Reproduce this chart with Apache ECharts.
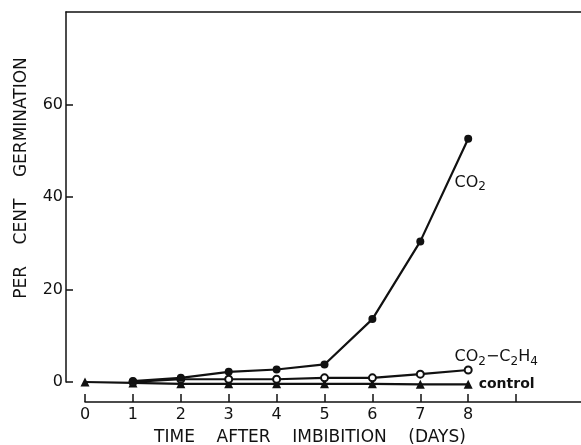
<!DOCTYPE html>
<html>
<head>
<meta charset="utf-8">
<title>Germination</title>
<script src="https://cdn.jsdelivr.net/npm/echarts@6/dist/echarts.min.js"></script>
<style>
  html, body { margin: 0; padding: 0; background: #fff; }
</style>
</head>
<body>
	<div id="main" style="width: 581px; height: 445px;"></div>
	<script type="text/javascript">
		// days after imbibition
		var daysCO2 = [1, 2, 3, 4, 5, 6, 7, 8];
		var daysEth = [1, 2, 3, 4, 5, 6, 7, 8];
		var daysCtl = [0, 1, 2, 3, 4, 5, 6, 7, 8];
		// per cent germination
		var co2 = [0.2, 0.9, 2.2, 2.7, 3.8, 13.6, 30.4, 52.6];
		var co2Eth = [0, 0.6, 0.6, 0.6, 0.9, 0.9, 1.7, 2.6];
		var control = [0, -0.2, -0.4, -0.4, -0.4, -0.4, -0.4, -0.5, -0.5];
		// axis ticks
		var xTicks = [0, 1, 2, 3, 4, 5, 6, 7, 8, 9];
		var xLabels = [0, 1, 2, 3, 4, 5, 6, 7, 8];
		var yTicks = [0, 20, 40, 60];

		var font = 'DejaVu Sans';
		var ink = '#111';

		function pairs(xs, ys) {
			var out = [];
			for (var i = 0; i < xs.length; i++) out.push([xs[i], ys[i]]);
			return out;
		}

		var co2Data = pairs(daysCO2, co2);
		var ethData = pairs(daysEth, co2Eth);
		var ctlData = pairs(daysCtl, control);

		var sub = { fontSize: 12, fontFamily: font, color: ink, padding: [9, 0, 0, 0] };
		var big = { fontSize: 16, fontFamily: font, color: ink };

		// labels hang off the last point of each curve
		co2Data[co2Data.length - 1] = {
			value: co2Data[co2Data.length - 1],
			label: {
				show: true, position: 'inside', offset: [2, 44],
				formatter: '{n|CO}{s|2}',
				rich: { n: big, s: sub }
			}
		};
		ethData[ethData.length - 1] = {
			value: ethData[ethData.length - 1],
			label: {
				show: true, position: 'inside', offset: [28, -13],
				formatter: '{n|CO}{s|2}{n|\u2212C}{s|2}{n|H}{s|4}',
				rich: { n: big, s: sub }
			}
		};
		ctlData[ctlData.length - 1] = {
			value: ctlData[ctlData.length - 1],
			label: {
				show: true, position: 'right', distance: 6,
				formatter: 'control',
				fontFamily: font, fontSize: 14, fontWeight: 'bold', color: ink
			}
		};

		var myChart = echarts.init(document.getElementById('main'));

		option = {
			backgroundColor: '#fff',
			animation: false,
			grid: [
				{ left: 66, right: 0, top: 12, bottom: 63, outerBoundsMode: 'none' },
				{ left: 85, right: 0, top: 12, bottom: 43, outerBoundsMode: 'none' }
			],
			xAxis: [
				{
					gridIndex: 0, type: 'value', position: 'top',
					min: -0.397, max: 10.355,
					axisLine: { show: true, onZero: false, lineStyle: { color: ink, width: 1.5 } },
					axisTick: { show: false }, axisLabel: { show: false },
					splitLine: { show: false }
				},
				{
					gridIndex: 1, type: 'value', position: 'bottom',
					min: 0, max: 10.355,
					axisLine: { show: true, onZero: false, lineStyle: { color: ink, width: 1.5 } },
					axisTick: { show: true, inside: true, length: 8, customValues: xTicks, lineStyle: { color: ink, width: 1.5 } },
					axisLabel: { customValues: xLabels, margin: 5, color: ink, fontFamily: font, fontSize: 16 },
					splitLine: { show: false },
					name: 'TIME    AFTER    IMBIBITION    (DAYS)',
					nameLocation: 'middle', nameGap: 27,
					nameTextStyle: { color: ink, fontFamily: font, fontSize: 17, padding: [0, 46, 0, 0] }
				}
			],
			yAxis: [
				{
					gridIndex: 0, type: 'value',
					min: 0, max: 80,
					axisLine: { show: true, onZero: false, lineStyle: { color: ink, width: 1.5 } },
					axisTick: { show: true, inside: true, length: 7, customValues: yTicks, lineStyle: { color: ink, width: 1.5 } },
					axisLabel: { customValues: yTicks, margin: 3, color: ink, fontFamily: font, fontSize: 16 },
					splitLine: { show: false },
					name: 'PER    CENT    GERMINATION',
					nameLocation: 'middle', nameGap: 36,
					nameTextStyle: { color: ink, fontFamily: font, fontSize: 17, padding: [0, 0, 0, 38] }
				},
				{ gridIndex: 1, type: 'value', show: false, min: 0, max: 80 }
			],
			series: [
				{
					name: 'control', type: 'line', xAxisIndex: 0, yAxisIndex: 0,
					data: ctlData, clip: false,
					symbol: 'triangle', symbolSize: 9,
					itemStyle: { color: ink },
					lineStyle: { color: ink, width: 2.2 }
				},
				{
					name: 'CO2-C2H4', type: 'line', xAxisIndex: 0, yAxisIndex: 0,
					data: ethData, clip: false,
					symbol: 'emptyCircle', symbolSize: 7,
					itemStyle: { color: ink, borderWidth: 1.5 },
					lineStyle: { color: ink, width: 2.2 }
				},
				{
					name: 'CO2', type: 'line', xAxisIndex: 0, yAxisIndex: 0,
					data: co2Data, clip: false,
					symbol: 'circle', symbolSize: 8,
					itemStyle: { color: ink },
					lineStyle: { color: ink, width: 2.2 }
				}
			]
		};
		myChart.setOption(option);
	</script>
</body>
</html>
